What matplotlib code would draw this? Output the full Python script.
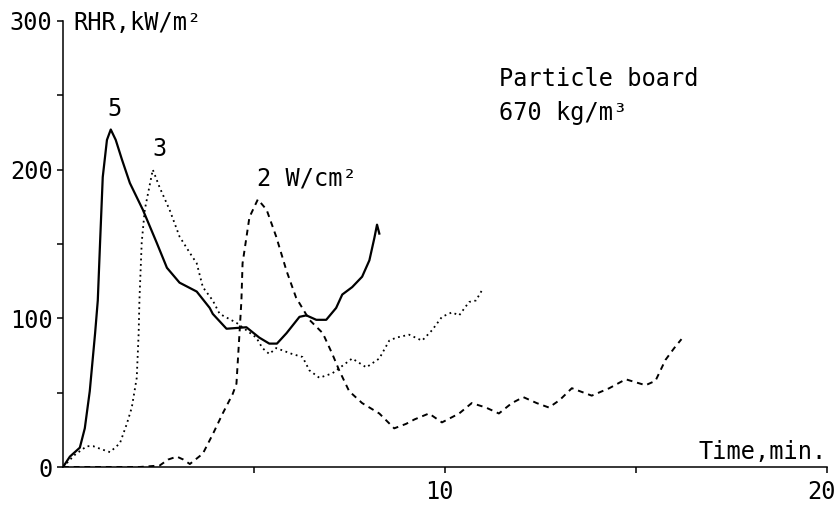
import numpy as np
import matplotlib.pyplot as plt
import matplotlib.transforms as mtransforms

# --- data (time in min, RHR in kW/m2) ---
t5 = [0, 0.18, 0.44, 0.57, 0.70, 0.84, 0.91, 0.97, 1.04, 1.15, 1.25, 1.38, 1.54,
      1.75, 2.09, 2.45, 2.72, 3.05, 3.5, 3.84, 3.92, 4.28, 4.8, 5.14, 5.4, 5.6,
      5.85, 6.19, 6.37, 6.63, 6.89, 7.15, 7.31, 7.57, 7.83, 8.02, 8.15, 8.22, 8.28]
v5 = [0, 7, 13, 26, 51, 90, 112, 151, 195, 220, 227, 220, 207,
      191, 173, 151, 134, 124, 118, 107, 103, 93, 94, 87, 83, 83,
      90, 101, 102, 99, 99, 107, 116, 121, 128, 139, 154, 163, 157]

t3 = [0, 0.3, 0.62, 0.79, 1.0, 1.23, 1.49, 1.67, 1.8, 1.93, 1.98, 2.0, 2.06, 2.14,
      2.35, 2.53, 2.79, 3.05, 3.32, 3.5, 3.66, 3.92, 4.1, 4.54, 5.06, 5.22, 5.4,
      5.58, 6.0, 6.27, 6.45, 6.71, 7.05, 7.31, 7.57, 7.94, 8.28, 8.54, 8.72, 9.06,
      9.4, 9.66, 9.92, 10.18, 10.37, 10.63, 10.81, 10.97]
v3 = [0, 8, 14, 14, 12, 10, 16, 29, 40, 60, 90, 112, 151, 173,
      200, 188, 173, 155, 144, 137, 121, 112, 103, 97, 87, 80, 76,
      80, 76, 74, 65, 60, 63, 68, 73, 67, 73, 85, 87, 89,
      85, 92, 101, 104, 102, 111, 112, 119]

t2 = [0, 1.0, 2.0, 2.53, 2.75, 2.98, 3.15, 3.32, 3.66, 3.92, 4.18, 4.44, 4.54,
      4.62, 4.67, 4.7, 4.88, 5.1, 5.33, 5.58, 5.85, 6.1, 6.45, 6.8, 7.05, 7.23,
      7.49, 7.83, 8.28, 8.67, 8.98, 9.2, 9.58, 9.92, 10.37, 10.7, 11.07, 11.41,
      11.75, 12.05, 12.4, 12.72, 13.0, 13.32, 13.84, 14.3, 14.73, 15.25, 15.51,
      15.77, 16.0, 16.19]
v2 = [0, 0, 0, 1, 5, 7, 5, 2, 9, 22, 36, 49, 56,
      90, 112, 137, 168, 180, 173, 155, 132, 114, 99, 90, 76, 65,
      51, 43, 36, 26, 29, 32, 36, 30, 36, 43, 40, 36,
      43, 47, 43, 40, 45, 53, 48, 53, 59, 55, 58,
      72, 80, 86]

xticks = [5, 10, 15, 20]
xticklabels = ['', '10', '', '20']
yticks = [0, 50, 100, 150, 200, 250, 300]
yticklabels = ['0', '', '100', '', '200', '', '300']

plt.rcParams['font.family'] = ['DejaVu Sans Mono', 'DejaVu Sans']
FS = 17

fig = plt.figure(figsize=(8.38, 5.08), dpi=100)
ax = fig.add_axes([0.0752, 0.0807, 0.9117, 0.878])

ax.plot(t5, v5, color='black', lw=1.6, ls='-')
ax.plot(t3, v3, color='black', lw=1.3, ls=(0, (1, 2)))
ax.plot(t2, v2, color='black', lw=1.4, ls=(0, (3, 2.5)))

ax.set_xlim(0, 20)
ax.set_ylim(0, 300)
ax.set_xticks(xticks)
ax.set_xticklabels(xticklabels)
ax.set_yticks(yticks)
ax.set_yticklabels(yticklabels)
ax.tick_params(axis='both', direction='out', length=4, width=1.1, labelsize=FS)
ax.tick_params(axis='y', pad=3.5)
ax.tick_params(axis='x', pad=5)
for s in ['top', 'right']:
    ax.spines[s].set_visible(False)
for s in ['left', 'bottom']:
    ax.spines[s].set_linewidth(1.1)

# x tick labels sit a bit left of their ticks in the original
shift = mtransforms.ScaledTranslation(-6 / 100, 0, fig.dpi_scale_trans)
for lab in ax.get_xticklabels():
    lab.set_transform(lab.get_transform() + shift)

# annotations
ax.text(0.26, 294, 'RHR,kW/m²', fontsize=FS, va='baseline', ha='left')
ax.text(1.34, 241, '5', fontsize=FS, va='center', ha='center')
ax.text(2.52, 214, '3', fontsize=FS, va='center', ha='center')
ax.text(5.07, 194, '2 W/cm²', fontsize=FS, va='center', ha='left')
ax.text(11.4, 261, 'Particle board', fontsize=FS, va='center', ha='left')
ax.text(11.4, 238, '670 kg/m³', fontsize=FS, va='center', ha='left')
ax.text(20, 10, 'Time,min.', fontsize=FS, va='center', ha='right')

fig.savefig('out.png', dpi=100)
